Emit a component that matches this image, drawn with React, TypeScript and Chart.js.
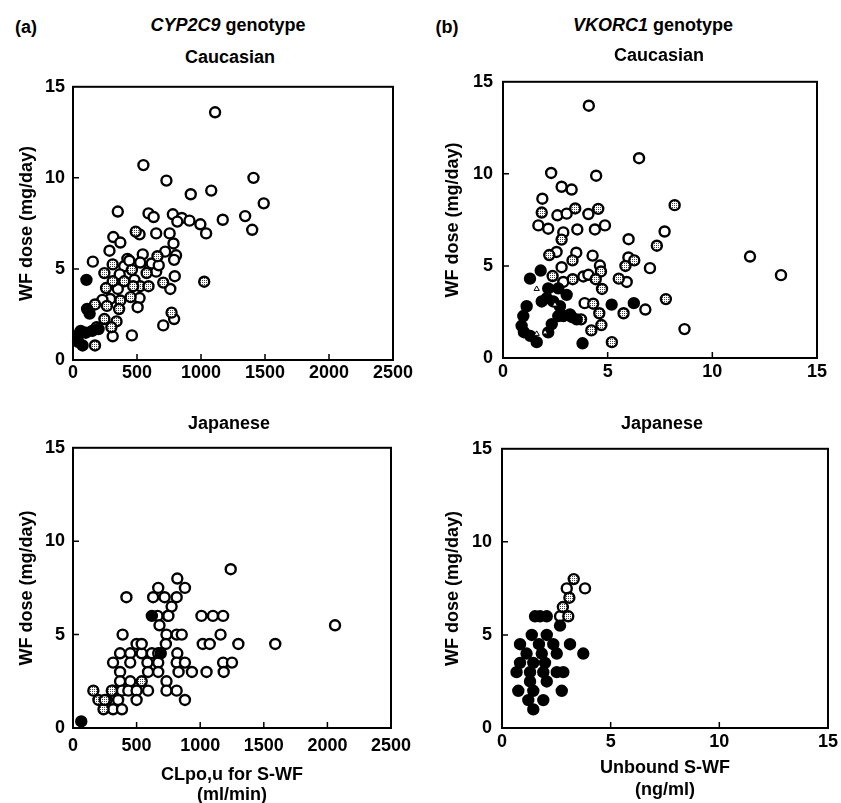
import React, { useEffect, useRef } from 'react';
import { Chart, registerables } from 'chart.js';

Chart.register(...registerables);

type P = [number, number];

// ---------- (a) CYP2C9, Caucasian: CLpo,u (ml/min) vs WF dose (mg/day)
const tlOpen: P[] = [
  [1110, 13.6], [550, 10.7], [730, 9.85], [1410, 10.0], [920, 9.1], [1080, 9.3], [1490, 8.6],
  [350, 8.15], [590, 8.05], [630, 7.85], [780, 8.0], [850, 7.8], [815, 7.6], [910, 7.65],
  [995, 7.45], [1170, 7.7], [1345, 7.9], [1400, 7.15], [1040, 6.95], [520, 6.9], [650, 6.95],
  [755, 6.95], [785, 6.4], [315, 6.75], [370, 6.45], [285, 6.0], [425, 5.55], [545, 5.8],
  [720, 5.95], [805, 5.75], [790, 5.5], [525, 5.35], [155, 5.4], [400, 5.15], [600, 5.05],
  [650, 4.85], [795, 4.6], [760, 3.9], [520, 3.4], [505, 2.9], [290, 3.35], [310, 1.3],
  [460, 1.35], [790, 2.25], [705, 1.9], [365, 4.7], [440, 5.45], [615, 5.3], [230, 3.3],
  [350, 3.9], [480, 4.4], [670, 5.2],
];
const tlStip: P[] = [
  [490, 7.05], [660, 5.7], [310, 5.25], [460, 4.95], [575, 4.77], [245, 4.77], [310, 4.32],
  [400, 4.32], [525, 4.05], [590, 4.05], [705, 4.25], [1025, 4.3], [470, 4.05], [258, 3.95],
  [370, 3.27], [450, 3.45], [265, 2.97], [360, 2.8], [172, 3.05], [245, 2.25], [340, 2.12],
  [300, 1.8], [185, 1.8], [172, 0.8], [770, 2.6],
];
const tlBlack: P[] = [
  [105, 4.4], [130, 2.55], [110, 2.8], [60, 1.6], [100, 1.5], [40, 1.0], [75, 0.8], [150, 1.6],
  [45, 1.4], [200, 1.7],
];

// ---------- (b) VKORC1, Caucasian: unbound S-WF (ng/ml) vs WF dose
const trOpen: P[] = [
  [4.1, 13.7], [6.5, 10.85], [2.3, 10.05], [4.45, 9.9], [2.8, 9.3], [3.28, 9.15], [1.88, 8.65],
  [4.08, 7.82], [2.6, 7.75], [3.04, 7.84], [1.69, 7.2], [2.16, 7.02], [3.55, 6.98], [4.39, 6.98],
  [4.87, 7.2], [2.88, 6.82], [7.72, 6.87], [6.0, 6.45], [2.56, 5.76], [3.5, 5.72], [4.28, 5.56],
  [5.99, 5.46], [11.8, 5.51], [13.28, 4.5], [7.02, 4.88], [4.63, 5.02], [2.8, 4.93], [3.84, 4.43],
  [4.08, 4.52], [5.91, 4.13], [2.88, 4.13], [3.9, 2.98], [6.8, 2.63], [8.67, 1.57],
];
const trStip: P[] = [
  [8.2, 8.3], [1.85, 7.9], [3.45, 8.12], [4.55, 8.1], [2.8, 6.43], [7.35, 6.1], [2.21, 5.59],
  [3.32, 5.3], [6.27, 5.3], [5.85, 5.0], [4.68, 4.7], [2.37, 4.45], [3.33, 4.28], [4.43, 4.28],
  [5.53, 4.31], [4.73, 3.75], [7.78, 3.2], [4.31, 2.95], [4.6, 2.43], [5.76, 2.43], [3.73, 2.1],
  [4.7, 1.79], [4.22, 1.5], [5.2, 0.86],
];
const trBlack: P[] = [
  [3.8, 0.8], [5.19, 2.9], [6.25, 2.98], [0.97, 2.28], [1.13, 2.81], [0.89, 1.75], [1.61, 0.86],
  [1.29, 4.31], [1.8, 4.75], [2.16, 1.39], [2.33, 1.84], [2.64, 2.28], [2.16, 3.78], [1.85, 3.07],
  [2.4, 3.07], [3.04, 3.43], [3.28, 2.23], [3.52, 2.1], [2.88, 2.28], [2.64, 3.78], [2.72, 2.81],
  [2.09, 3.25], [1.0, 1.4], [1.3, 1.2], [3.2, 2.37],
];
const trTri: P[] = [[1.61, 3.75], [1.61, 1.31], [2.01, 1.39], [2.48, 2.9]];

// ---------- (a) CYP2C9, Japanese
const blOpen: P[] = [
  [1240, 8.5], [820, 8.0], [880, 7.5], [670, 7.5], [420, 7.0], [630, 7.0], [720, 7.0], [815, 7.0],
  [775, 6.5], [665, 6.0], [745, 6.0], [680, 5.5], [1010, 6.0], [1100, 6.0], [1180, 6.0],
  [1160, 5.0], [1020, 4.5], [1075, 4.5], [1300, 4.5], [1590, 4.5], [2060, 5.5], [1180, 3.5],
  [1250, 3.5], [1050, 3.0], [1185, 3.0], [390, 5.0], [735, 5.0], [815, 5.0], [855, 5.0],
  [730, 4.5], [500, 4.5], [540, 4.0], [620, 4.0], [370, 4.0], [450, 4.0], [670, 4.0], [820, 4.0],
  [315, 3.5], [450, 3.5], [585, 3.5], [670, 3.5], [815, 3.5], [880, 3.5], [370, 3.0], [590, 3.0],
  [670, 3.0], [830, 3.0], [935, 3.0], [370, 2.5], [450, 2.5], [735, 2.5], [315, 2.0], [385, 2.0],
  [435, 2.0], [500, 2.0], [590, 2.0], [735, 2.0], [815, 2.0], [265, 1.5], [355, 1.5], [500, 1.5],
  [880, 1.5], [315, 1.0], [385, 1.0], [540, 4.5], [750, 6.0],
];
const blStip: P[] = [[160, 2.0], [305, 2.0], [200, 1.5], [240, 1.0], [540, 2.5], [250, 1.5]];
const blBlack: P[] = [[65, 0.35], [620, 6.0], [690, 4.0]];

// ---------- (b) VKORC1, Japanese
const brOpen: P[] = [[2.98, 7.5], [3.82, 7.5], [2.67, 6.0]];
const brStip: P[] = [[3.3, 8.0], [3.1, 7.0], [2.8, 6.5], [3.05, 6.0]];
const brBlack: P[] = [
  [2.67, 5.5], [1.52, 6.0], [2.06, 6.0], [1.75, 6.0], [1.37, 5.0], [2.06, 5.0], [0.83, 4.5],
  [1.7, 4.5], [2.36, 4.5], [3.13, 4.5], [3.74, 4.0], [1.13, 4.0], [1.83, 4.0], [2.52, 4.0],
  [0.83, 3.5], [1.44, 3.5], [1.98, 3.5], [0.67, 3.0], [1.29, 3.0], [1.9, 3.0], [2.52, 3.0],
  [2.82, 3.0], [1.29, 2.5], [2.06, 2.5], [0.75, 2.0], [1.44, 2.0], [2.75, 2.0], [1.21, 1.5],
  [1.9, 1.5], [1.44, 1.0],
];

const xTicksCLpo = [0, 500, 1000, 1500, 2000, 2500];
const xTicksUnbound = [0, 5, 10, 15];
const yTicksDose = [0, 5, 10, 15];

const yTitle = 'WF dose (mg/day)';
const blXTitle = ['CLpo,u for S-WF', '(ml/min)'];
const brXTitle = ['Unbound S-WF', '(ng/ml)'];

const FONT = "'Liberation Sans', Arial, Helvetica, sans-serif";

type Kind = 'open' | 'stip' | 'black' | 'tri';

interface Spec {
  left: number; top: number; width: number; height: number;
  padTop: number; padRight: number; yWidth: number; xHeight: number;
  xTicks: number[]; yLabelPad: number; xLabelPad: number; yTitlePad: number;
  xTitle?: string[]; xTitleLH?: number; xTitlePB?: number;
  sets: { kind: Kind; data: P[] }[];
}

const panels: Spec[] = [
  {
    left: 0, top: 68, width: 420, height: 322, padTop: 14, padRight: 27, yWidth: 73, xHeight: 30,
    xTicks: xTicksCLpo, yLabelPad: 8, xLabelPad: 2, yTitlePad: 16,
    sets: [{ kind: 'black', data: tlBlack }, { kind: 'stip', data: tlStip }, { kind: 'open', data: tlOpen }],
  },
  {
    left: 420, top: 61, width: 421, height: 327, padTop: 14, padRight: 24, yWidth: 83, xHeight: 30,
    xTicks: xTicksUnbound, yLabelPad: 10, xLabelPad: 3, yTitlePad: 22,
    sets: [{ kind: 'tri', data: trTri }, { kind: 'black', data: trBlack }, { kind: 'stip', data: trStip }, { kind: 'open', data: trOpen }],
  },
  {
    left: 0, top: 429, width: 420, height: 377, padTop: 14, padRight: 29, yWidth: 73, xHeight: 78,
    xTicks: xTicksCLpo, yLabelPad: 8, xLabelPad: 7, yTitlePad: 16,
    xTitle: blXTitle, xTitleLH: 20, xTitlePB: 1,
    sets: [{ kind: 'black', data: blBlack }, { kind: 'stip', data: blStip }, { kind: 'open', data: blOpen }],
  },
  {
    left: 420, top: 428, width: 421, height: 375, padTop: 14, padRight: 13, yWidth: 82, xHeight: 75,
    xTicks: xTicksUnbound, yLabelPad: 10, xLabelPad: 3, yTitlePad: 22,
    xTitle: brXTitle, xTitleLH: 22, xTitlePB: 2,
    sets: [{ kind: 'black', data: brBlack }, { kind: 'stip', data: brStip }, { kind: 'open', data: brOpen }],
  },
];

const frameTicks = {
  id: 'frameTicks',
  beforeDatasetsDraw(chart: any) {
    const { ctx, chartArea: a, scales } = chart;
    ctx.save();
    ctx.strokeStyle = '#000';
    ctx.lineWidth = 2;
    ctx.strokeRect(a.left, a.top, a.right - a.left, a.bottom - a.top);
    ctx.lineWidth = 1.5;
    ctx.beginPath();
    const xs = scales.x;
    const ys = scales.y;
    xs.ticks.forEach((t: any) => {
      const px = xs.getPixelForValue(t.value);
      if (px > a.left + 2 && px < a.right - 2) {
        ctx.moveTo(px, a.bottom);
        ctx.lineTo(px, a.bottom - 6);
      }
    });
    ys.ticks.forEach((t: any) => {
      const py = ys.getPixelForValue(t.value);
      if (py > a.top + 2 && py < a.bottom - 2) {
        ctx.moveTo(a.left, py);
        ctx.lineTo(a.left + 6, py);
      }
    });
    ctx.stroke();
    ctx.restore();
  },
};

function makeStipple(): CanvasPattern | string {
  const c = document.createElement('canvas');
  c.width = 2;
  c.height = 2;
  const g = c.getContext('2d');
  if (!g) return '#bbb';
  g.fillStyle = '#fff';
  g.fillRect(0, 0, 2, 2);
  g.fillStyle = '#444';
  g.fillRect(0, 0, 1, 1);
  const p = g.createPattern(c, 'repeat');
  return p || '#bbb';
}

function styleFor(kind: Kind, stip: CanvasPattern | string) {
  switch (kind) {
    case 'open':
      return { backgroundColor: '#fff', borderColor: '#000', borderWidth: 2.4, pointRadius: 5, pointStyle: 'circle' };
    case 'stip':
      return { backgroundColor: stip, borderColor: '#000', borderWidth: 2.4, pointRadius: 5, pointStyle: 'circle' };
    case 'black':
      return { backgroundColor: '#000', borderColor: '#000', borderWidth: 2.4, pointRadius: 5, pointStyle: 'circle' };
    default:
      return { backgroundColor: '#fff', borderColor: '#000', borderWidth: 1, pointRadius: 3, pointStyle: 'triangle' };
  }
}

function Panel({ spec }: { spec: Spec }) {
  const ref = useRef<HTMLCanvasElement>(null);
  useEffect(() => {
    if (!ref.current) return;
    const stip = makeStipple();
    const tickFont = { family: FONT, size: 18, weight: 'bold' as const };
    const xMax = spec.xTicks[spec.xTicks.length - 1];
    const plain = (v: any) => String(v);
    const chart = new Chart(ref.current, {
      type: 'scatter',
      data: {
        datasets: spec.sets.map((s) => ({
          label: s.kind,
          data: s.data.map(([x, y]) => ({ x, y })),
          showLine: false,
          clip: false,
          ...(styleFor(s.kind, stip) as any),
        })),
      },
      options: {
        animation: false,
        responsive: false,
        events: [],
        layout: { padding: { top: spec.padTop, right: spec.padRight, left: 0, bottom: 0 } },
        plugins: { legend: { display: false }, tooltip: { enabled: false }, title: { display: false } },
        scales: {
          x: {
            type: 'linear',
            min: 0,
            max: xMax,
            afterBuildTicks: (axis: any) => {
              axis.ticks = spec.xTicks.map((v) => ({ value: v }));
            },
            afterFit: (axis: any) => {
              axis.height = spec.xHeight;
            },
            grid: { display: false, drawTicks: false },
            border: { display: false },
            ticks: {
              font: tickFont,
              color: '#000',
              padding: spec.xLabelPad,
              maxRotation: 0,
              minRotation: 0,
              autoSkip: false,
              callback: plain,
            },
            title: spec.xTitle
              ? {
                  display: true,
                  text: spec.xTitle,
                  color: '#000',
                  font: { family: FONT, size: 18, weight: 'bold', lineHeight: `${spec.xTitleLH}px` },
                  padding: { top: 0, bottom: spec.xTitlePB ?? 0 },
                }
              : { display: false },
          },
          y: {
            type: 'linear',
            min: 0,
            max: 15,
            afterBuildTicks: (axis: any) => {
              axis.ticks = yTicksDose.map((v) => ({ value: v }));
            },
            afterFit: (axis: any) => {
              axis.width = spec.yWidth;
            },
            grid: { display: false, drawTicks: false },
            border: { display: false },
            ticks: { font: tickFont, color: '#000', padding: spec.yLabelPad, autoSkip: false, callback: plain },
            title: {
              display: true,
              text: yTitle,
              color: '#000',
              font: { family: FONT, size: 18, weight: 'bold' },
              padding: { top: spec.yTitlePad, bottom: 0 },
            },
          },
        },
      } as any,
      plugins: [frameTicks],
    });
    return () => chart.destroy();
  }, [spec]);
  return (
    <canvas
      ref={ref}
      width={spec.width}
      height={spec.height}
      style={{ position: 'absolute', left: spec.left, top: spec.top, width: spec.width, height: spec.height }}
    />
  );
}

const textBase: React.CSSProperties = {
  position: 'absolute',
  transform: 'translate(-50%, -50%)',
  whiteSpace: 'nowrap',
  fontFamily: FONT,
  fontWeight: 'bold',
  fontSize: 18,
  lineHeight: '20px',
  color: '#000',
};

function Label({ x, y, children }: { x: number; y: number; children: React.ReactNode }) {
  return <div style={{ ...textBase, left: x, top: y }}>{children}</div>;
}

export default function App() {
  return (
    <div
      style={{
        position: 'fixed',
        left: 0,
        top: 0,
        width: 841,
        height: 803,
        background: '#fff',
        overflow: 'hidden',
      }}
    >
      {panels.map((p, i) => (
        <Panel key={i} spec={p} />
      ))}
      <Label x={26} y={27}>(a)</Label>
      <Label x={228} y={25}>
        <i>CYP2C9</i> genotype
      </Label>
      <Label x={230} y={57}>Caucasian</Label>
      <Label x={447} y={27}>(b)</Label>
      <Label x={653} y={25}>
        <i>VKORC1</i> genotype
      </Label>
      <Label x={659} y={55}>Caucasian</Label>
      <Label x={229} y={423}>Japanese</Label>
      <Label x={662} y={423}>Japanese</Label>
    </div>
  );
}
